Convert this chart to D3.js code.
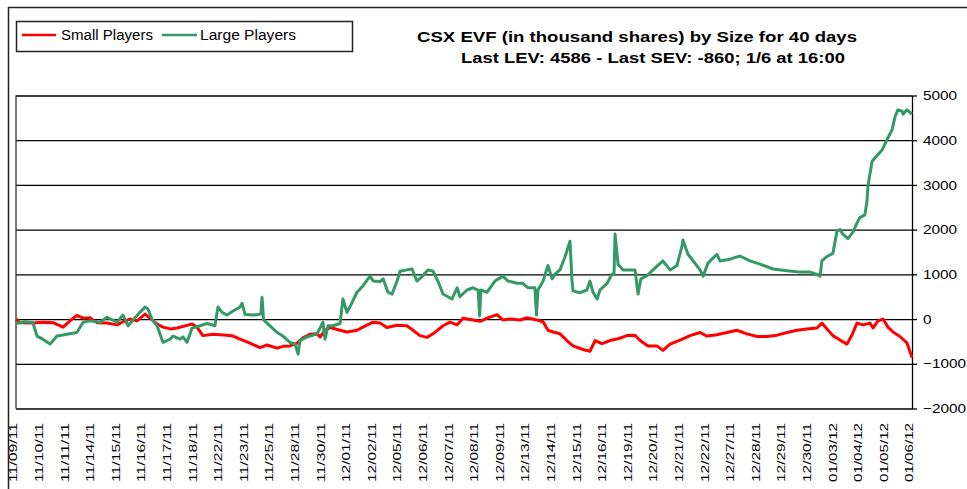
<!DOCTYPE html>
<html>
<head>
<meta charset="utf-8">
<script src="https://cdn.jsdelivr.net/npm/d3@7"></script>
<style>
  body { margin: 0; background: #fff; }
  svg { display: block; font-family: Arial, "Liberation Sans", sans-serif; }
</style>
</head>
<body>
<div id="chart"></div>
<script>
// trading days shown on the category axis
const dayLabels = [
  '11/09/11', '11/10/11', '11/11/11', '11/14/11', '11/15/11', '11/16/11', '11/17/11', '11/18/11',
  '11/22/11', '11/23/11', '11/25/11', '11/28/11', '11/30/11', '12/01/11', '12/02/11', '12/05/11',
  '12/06/11', '12/07/11', '12/08/11', '12/09/11', '12/13/11', '12/14/11', '12/15/11', '12/16/11',
  '12/19/11', '12/20/11', '12/21/11', '12/22/11', '12/27/11', '12/28/11', '12/29/11', '12/30/11',
  '01/03/12', '01/04/12', '01/05/12', '01/06/12'
];

const yTicks = [5000, 4000, 3000, 2000, 1000, 0, -1000, -2000];

const titleText = 'CSX EVF (in thousand shares) by Size for 40 days';
const subtitleText = 'Last LEV: 4586 - Last SEV: -860; 1/6 at 16:00';
const seriesNames = ['Small Players', 'Large Players'];

// [day position, EVF in thousand shares]
const smallPlayers = [
  [0, 0], [0.16, -80], [0.66, -90], [1.05, -70], [1.45, -80], [1.64, -130], [1.84, -180], [1.99, -100],
  [2.19, 0], [2.38, 80], [2.62, 20], [2.89, 30], [3.16, -80], [3.55, -90], [3.95, -130], [4.18, -60],
  [4.45, 0], [4.73, -40], [5.04, 110], [5.23, 20], [5.51, -110], [5.74, -180], [6.02, -220], [6.29, -200],
  [6.68, -140], [6.88, -110], [7.07, -180], [7.3, -370], [7.7, -340], [8.24, -360], [8.48, -380], [8.75, -450],
  [9.14, -540], [9.53, -640], [9.8, -580], [10.2, -650], [10.43, -610], [10.7, -600], [10.98, -540], [11.21, -420],
  [11.48, -340], [11.76, -330], [11.88, -400], [12.07, -250], [12.27, -190], [12.66, -250], [12.93, -290], [13.32, -250],
  [13.55, -180], [13.95, -70], [14.22, -90], [14.49, -190], [14.88, -140], [15.27, -150], [15.51, -250], [15.78, -370],
  [16.05, -410], [16.29, -330], [16.68, -150], [16.95, -70], [17.23, -130], [17.46, 20], [17.85, -20], [18.13, -50],
  [18.4, 20], [18.79, 100], [19.02, -20], [19.3, 0], [19.69, -20], [19.96, 30], [20.35, -20], [20.59, -60],
  [20.78, -250], [20.98, -290], [21.25, -330], [21.52, -480], [21.76, -600], [22.15, -680], [22.42, -720], [22.62, -480],
  [22.89, -550], [23.2, -480], [23.52, -440], [23.87, -370], [24.18, -360], [24.38, -480], [24.69, -600], [25.04, -600],
  [25.27, -700], [25.55, -560], [25.94, -470], [26.33, -370], [26.72, -300], [26.99, -380], [27.38, -350], [27.77, -300],
  [28.16, -250], [28.55, -330], [28.94, -390], [29.34, -390], [29.73, -360], [30.12, -300], [30.51, -250], [30.9, -220],
  [31.29, -200], [31.48, -90], [31.68, -220], [31.91, -370], [32.19, -470], [32.46, -560], [32.66, -350], [32.85, -90],
  [33.09, -130], [33.36, -90], [33.48, -200], [33.67, -40], [33.87, 0], [34.06, -180], [34.26, -290], [34.53, -390],
  [34.8, -530], [35, -860]
];

const largePlayers = [
  [0, -100], [0.35, -60], [0.66, -80], [0.82, -380], [1.05, -450], [1.33, -560], [1.6, -380], [1.99, -340],
  [2.38, -300], [2.62, -70], [2.89, -40], [3.28, -70], [3.55, 40], [3.95, -70], [4.18, 90], [4.38, -150],
  [4.57, -20], [4.84, 150], [5.04, 270], [5.16, 220], [5.31, 0], [5.51, -150], [5.74, -520], [6.02, -450],
  [6.13, -380], [6.41, -450], [6.52, -400], [6.68, -520], [6.88, -200], [7.19, -150], [7.46, -100], [7.77, -150],
  [7.89, 270], [8.05, 150], [8.24, 90], [8.48, 180], [8.75, 270], [8.83, 350], [8.95, 100], [9.26, 90],
  [9.45, 100], [9.57, 120], [9.61, 490], [9.67, -20], [9.92, -150], [10.2, -300], [10.43, -380], [10.7, -520],
  [10.9, -560], [11.02, -780], [11.09, -480], [11.37, -400], [11.76, -330], [11.99, -70], [12.07, -450], [12.19, -150],
  [12.38, -150], [12.66, -100], [12.77, 450], [12.93, 150], [13.05, 280], [13.32, 600], [13.55, 740], [13.83, 960],
  [13.95, 850], [14.22, 840], [14.34, 900], [14.53, 600], [14.69, 560], [14.88, 840], [15, 1070], [15.27, 1100],
  [15.47, 1120], [15.66, 850], [15.86, 950], [16.09, 1100], [16.29, 1070], [16.48, 850], [16.68, 560], [17.03, 450],
  [17.23, 700], [17.34, 500], [17.62, 650], [17.85, 700], [18.05, 650], [18.11, 70], [18.16, 650], [18.4, 600],
  [18.71, 850], [19.02, 960], [19.22, 850], [19.57, 800], [19.8, 800], [20, 700], [20.27, 700], [20.33, 90],
  [20.39, 650], [20.59, 850], [20.78, 1200], [20.94, 900], [21.05, 1000], [21.25, 1100], [21.45, 1400], [21.64, 1740],
  [21.72, 850], [21.76, 630], [22.03, 590], [22.3, 650], [22.42, 850], [22.54, 600], [22.7, 450], [22.81, 650],
  [23.09, 800], [23.28, 1000], [23.36, 1000], [23.4, 1900], [23.52, 1220], [23.71, 1100], [24.18, 1100], [24.3, 560],
  [24.41, 900], [24.65, 970], [24.88, 1100], [25.27, 1300], [25.55, 1100], [25.82, 1200], [26.02, 1640], [26.05, 1770],
  [26.25, 1450], [26.45, 1300], [26.72, 1100], [26.84, 960], [27.03, 1250], [27.38, 1450], [27.5, 1300], [27.89, 1340],
  [28.28, 1410], [28.67, 1300], [29.06, 1230], [29.57, 1120], [30.12, 1080], [30.63, 1050], [31.02, 1050], [31.29, 1000],
  [31.41, 960], [31.48, 1300], [31.68, 1400], [31.91, 1470], [32.07, 1970], [32.19, 2000], [32.3, 1900], [32.5, 1800],
  [32.7, 1950], [32.85, 2150], [32.97, 2270], [33.16, 2330], [33.24, 2630], [33.28, 2980], [33.44, 3530], [33.63, 3650],
  [33.83, 3780], [34.02, 4010], [34.22, 4230], [34.34, 4530], [34.45, 4680], [34.61, 4650], [34.65, 4580], [34.8, 4680],
  [35, 4586]
];

const width = 967;
const height = 489;
const plot = { left: 16, right: 912, top: 95.5, bottom: 408.5 };
const red = '#ff0000';
const green = '#339966';

const svg = d3.select('#chart')
  .append('svg')
  .attr('width', width)
  .attr('height', height);

svg.append('rect').attr('width', width).attr('height', height).attr('fill', '#fff');

// chart area border (runs off the right and bottom of the crop)
svg.append('path')
  .attr('d', `M8.5,${height + 2}V7.5H${width + 2}`)
  .attr('fill', 'none')
  .attr('stroke', '#222')
  .attr('stroke-width', 1.5);

const x = d3.scaleLinear()
  .domain([0, dayLabels.length - 1])
  .range([plot.left, plot.right]);

const y = d3.scaleLinear()
  .domain([-2000, 5000])
  .range([plot.bottom, plot.top]);

// gridlines
const grid = svg.append('g')
  .attr('transform', `translate(${plot.right},0)`)
  .call(d3.axisRight(y).tickValues(yTicks).tickSize(-(plot.right - plot.left)).tickFormat(''));
grid.select('.domain').remove();
grid.selectAll('line').attr('stroke', '#000').attr('stroke-width', 1.3);

// right value axis
const yAxis = svg.append('g')
  .attr('transform', `translate(${plot.right},0)`)
  .call(d3.axisRight(y).tickValues(yTicks).tickFormat(d3.format('d')).tickSizeInner(5).tickSizeOuter(0).tickPadding(6));
yAxis.select('.domain').attr('stroke', '#000').attr('stroke-width', 1.3);
yAxis.selectAll('line').attr('stroke', '#000').attr('stroke-width', 1.3);
yAxis.selectAll('text')
  .attr('fill', '#000')
  .style('font-size', '13px')
  .each(function () {
    const len = this.getComputedTextLength();
    d3.select(this).attr('textLength', len * 1.18).attr('lengthAdjust', 'spacingAndGlyphs');
  });

// left edge of plot area
svg.append('line')
  .attr('x1', plot.left).attr('x2', plot.left)
  .attr('y1', plot.top).attr('y2', plot.bottom)
  .attr('stroke', '#333').attr('stroke-width', 1.3);

// category labels, rotated
svg.append('g')
  .selectAll('text')
  .data(dayLabels)
  .join('text')
  .attr('transform', (d, i) => `translate(${x(i) - 2.5},423) rotate(-90)`)
  .attr('text-anchor', 'end')
  .attr('dy', '0.35em')
  .attr('fill', '#000')
  .style('font-size', '11px')
  .attr('textLength', 59)
  .attr('lengthAdjust', 'spacingAndGlyphs')
  .text(d => d);

// series
const line = d3.line()
  .x(d => x(d[0]))
  .y(d => y(d[1]));

svg.append('path')
  .datum(smallPlayers)
  .attr('fill', 'none')
  .attr('stroke', red)
  .attr('stroke-width', 3)
  .attr('stroke-linejoin', 'round')
  .attr('d', line);

svg.append('path')
  .datum(largePlayers)
  .attr('fill', 'none')
  .attr('stroke', green)
  .attr('stroke-width', 3)
  .attr('stroke-linejoin', 'round')
  .attr('d', line);

// legend
const legend = svg.append('g');
legend.append('rect')
  .attr('x', 16.5).attr('y', 21.5)
  .attr('width', 336).attr('height', 30)
  .attr('fill', '#fff')
  .attr('stroke', '#222')
  .attr('stroke-width', 1.5);

const legendItems = [
  { name: seriesNames[0], color: red, x0: 22, x1: 56, tx: 61, len: 92 },
  { name: seriesNames[1], color: green, x0: 162, x1: 197, tx: 200, len: 96 }
];
legendItems.forEach(item => {
  legend.append('line')
    .attr('x1', item.x0).attr('x2', item.x1)
    .attr('y1', 35).attr('y2', 35)
    .attr('stroke', item.color)
    .attr('stroke-width', 2.5);
  legend.append('text')
    .attr('x', item.tx).attr('y', 39.5)
    .attr('fill', '#000')
    .style('font-size', '14px')
    .attr('textLength', item.len)
    .attr('lengthAdjust', 'spacingAndGlyphs')
    .text(item.name);
});

// titles
svg.append('text')
  .attr('x', 417).attr('y', 42)
  .style('font-size', '15px')
  .style('font-weight', 'bold')
  .attr('textLength', 440)
  .attr('lengthAdjust', 'spacingAndGlyphs')
  .text(titleText);

svg.append('text')
  .attr('x', 461).attr('y', 63)
  .style('font-size', '15px')
  .style('font-weight', 'bold')
  .attr('textLength', 384)
  .attr('lengthAdjust', 'spacingAndGlyphs')
  .text(subtitleText);
</script>
</body>
</html>
